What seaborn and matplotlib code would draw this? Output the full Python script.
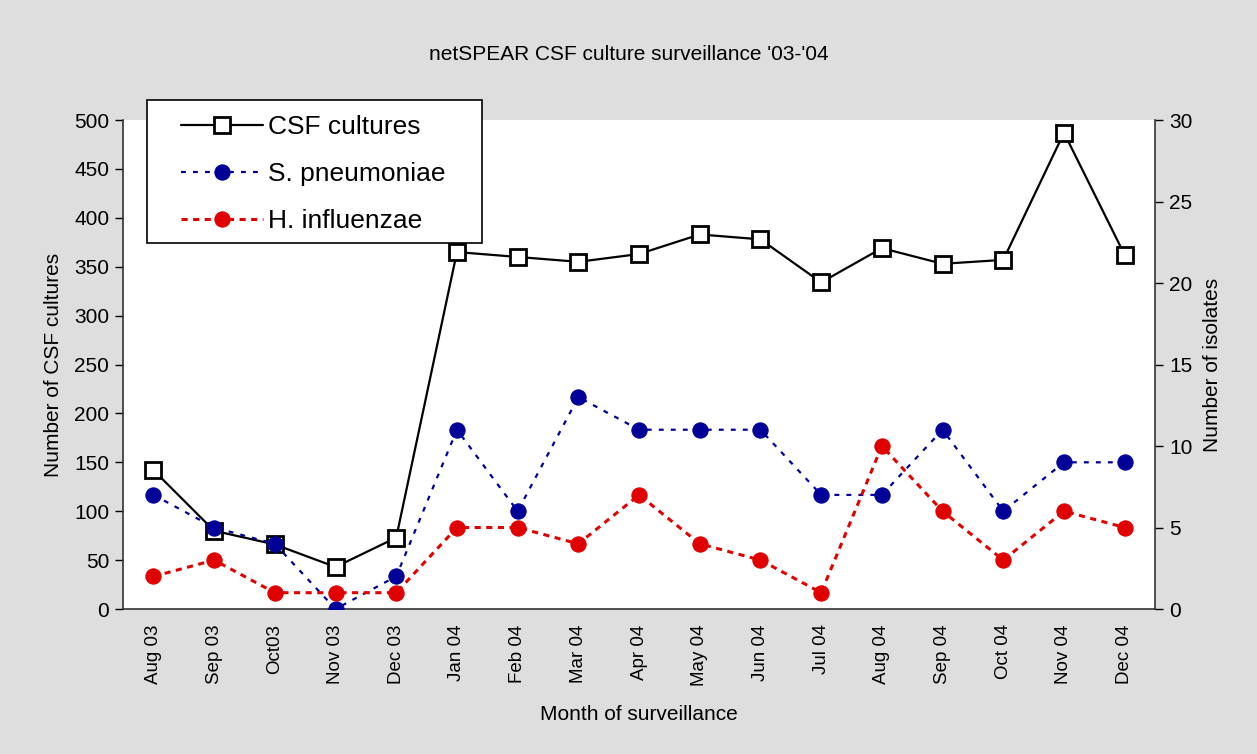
import matplotlib
matplotlib.use("Agg")
import matplotlib.pyplot as plt
from matplotlib.patches import Rectangle
import seaborn as sns
import numpy as np
import pandas as pd

months = ["Aug 03", "Sep 03", "Oct03", "Nov 03", "Dec 03", "Jan 04", "Feb 04",
          "Mar 04", "Apr 04", "May 04", "Jun 04", "Jul 04", "Aug 04", "Sep 04",
          "Oct 04", "Nov 04", "Dec 04"]
csf_cultures = [142, 80, 66, 43, 73, 365, 360, 355, 363, 383, 378, 334, 369, 353, 357, 487, 362]
s_pneumoniae = [7, 5, 4, 0, 2, 11, 6, 13, 11, 11, 11, 7, 7, 11, 6, 9, 9]
h_influenzae = [2, 3, 1, 1, 1, 5, 5, 4, 7, 4, 3, 1, 10, 6, 3, 6, 5]

df = pd.DataFrame({"idx": np.arange(len(months)), "month": months,
                   "csf": csf_cultures, "spn": s_pneumoniae, "hib": h_influenzae})

sns.set_style("white")
plt.rcParams["font.family"] = ["Liberation Sans", "DejaVu Sans"]
plt.rcParams["text.color"] = "black"
plt.rcParams["axes.labelcolor"] = "black"
plt.rcParams["xtick.color"] = "black"
plt.rcParams["ytick.color"] = "black"

bg = "#dedede"
fs = 15
W, H = 1257, 754
fig = plt.figure(figsize=(12.57, 7.54), dpi=100, facecolor=bg)
ax = fig.add_axes([0.0979, 0.1923, 0.821, 0.6485])
ax.set_facecolor("white")
ax2 = ax.twinx()

sns.lineplot(data=df, x="idx", y="csf", ax=ax, color="black", linewidth=1.6,
             marker="s", markersize=11, markerfacecolor="white",
             markeredgecolor="black", markeredgewidth=2, label="CSF cultures",
             legend=False, zorder=3)
sns.lineplot(data=df, x="idx", y="spn", ax=ax2, color="#000099", linewidth=1.6,
             linestyle=(0, (2.2, 3.2)), marker="o", markersize=11,
             markeredgecolor="#000099", markerfacecolor="#000099",
             label="S. pneumoniae", legend=False)
sns.lineplot(data=df, x="idx", y="hib", ax=ax2, color="#e00000", linewidth=2.2,
             linestyle=(0, (2, 1.8)), marker="o", markersize=11,
             markeredgecolor="#e00000", markerfacecolor="#e00000",
             label="H. influenzae", legend=False)

ax.set_ylim(0, 500)
ax2.set_ylim(0, 30)
ax.set_xlim(-0.5, len(months) - 0.5)
ax.set_yticks(np.arange(0, 501, 50))
ax2.set_yticks(np.arange(0, 31, 5))
ax.set_xticks(np.arange(len(months)))
ax.set_xticklabels(months, rotation=90, fontsize=13.5)
ax.set_xticks(np.arange(-0.5, len(months), 1), minor=True)
ax.tick_params(axis="x", which="major", length=0, pad=11)
ax.tick_params(axis="x", which="minor", length=6, width=1, color="black", direction="out")
ax.tick_params(axis="y", length=6, width=1, color="black", direction="out", labelsize=fs, left=True, pad=4)
ax2.tick_params(axis="y", length=6, width=1, color="black", direction="out", labelsize=fs, right=True, pad=4)

for a in (ax, ax2):
    for s in a.spines.values():
        s.set_visible(False)
    a.set_xlabel("")
ax.spines["left"].set_visible(True)
ax.spines["bottom"].set_visible(True)
ax2.spines["right"].set_visible(True)
for s in (ax.spines["left"], ax.spines["bottom"], ax2.spines["right"]):
    s.set_color("#333333")
    s.set_linewidth(1.2)

ax.set_ylabel("Number of CSF cultures", fontsize=fs, labelpad=8)
ax2.set_ylabel("Number of isolates", fontsize=fs, labelpad=8)
ax.set_xlabel("Month of surveillance", fontsize=fs, labelpad=14)
fig.text(0.5, 1 - 55 / H, "netSPEAR CSF culture surveillance '03-'04", ha="center",
         va="center", fontsize=fs)

# legend box (frame drawn separately, legend placed inside)
frame = Rectangle((147 / W, 1 - 243 / H), 335 / W, 143 / H, transform=fig.transFigure,
                  facecolor="white", edgecolor="black", linewidth=1.2, zorder=5)
fig.patches.append(frame)

h1, l1 = ax.get_legend_handles_labels()
h2, l2 = ax2.get_legend_handles_labels()
leg = fig.legend(h1 + h2, l1 + l2, loc="upper left",
                 bbox_to_anchor=(181 / W, 1 - 115 / H),
                 fontsize=19, frameon=False, handlelength=3.1,
                 labelspacing=0.87, borderpad=0, handletextpad=0.2,
                 borderaxespad=0)
leg.set_zorder(6)

fig.savefig("out.png", dpi=100, facecolor=bg)
